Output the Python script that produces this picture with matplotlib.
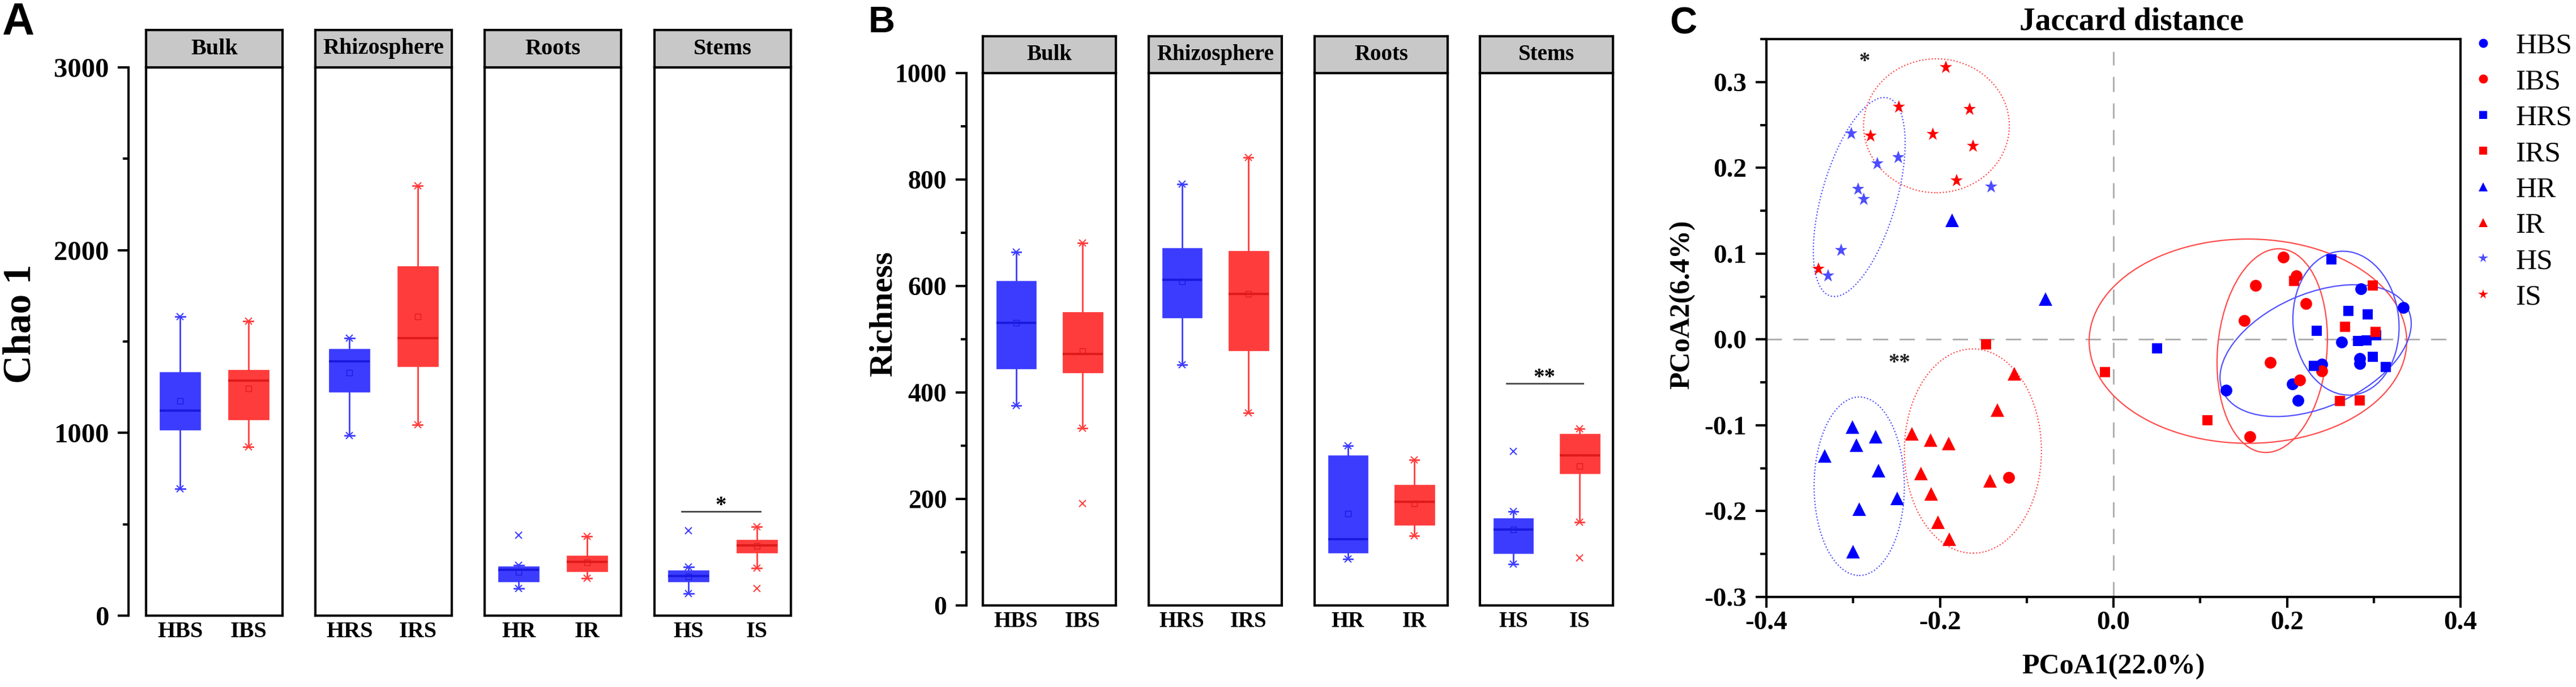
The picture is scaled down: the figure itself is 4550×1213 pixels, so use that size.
import matplotlib
matplotlib.use('Agg')
import matplotlib.pyplot as plt
from matplotlib.patches import Ellipse
from matplotlib.lines import Line2D
from matplotlib.ticker import MultipleLocator

# ---------------- data: alpha diversity boxes (A = Chao 1, B = Richness)
habitats = ['Bulk', 'Rhizosphere', 'Roots', 'Stems']
box_groups = ['HBS', 'IBS', 'HRS', 'IRS', 'HR', 'IR', 'HS', 'IS']

chao_lo = [694, 923, 985, 1043, 150, 205, 121, 260]
chao_q1 = [1016, 1071, 1224, 1364, 186, 241, 186, 344]
chao_med = [1122, 1286, 1391, 1518, 250, 294, 217, 384]
chao_q3 = [1333, 1345, 1461, 1912, 270, 329, 248, 415]
chao_hi = [1635, 1611, 1518, 2352, 275, 433, 265, 486]
chao_mean = [1176, 1243, 1330, 1635, 240, 290, 215, 380]
chao_out = [[], [], [], [], [440], [], [464], [149]]
chao_sig = [570, '*']

rich_lo = [376, 333, 452, 362, 87, 131, 78, 156]
rich_q1 = [445, 437, 540, 479, 99, 151, 98, 248]
rich_med = [531, 472, 612, 585, 125, 195, 143, 282]
rich_q3 = [610, 551, 671, 666, 282, 227, 164, 322]
rich_hi = [664, 681, 791, 841, 300, 273, 177, 332]
rich_mean = [531, 478, 608, 585, 172, 192, 143, 262]
rich_out = [[], [191], [], [], [], [], [289], [89]]
rich_sig = [417, '**']

# ---------------- data: PCoA (C)
hbs_x = [0.285, 0.334, 0.263, 0.284, 0.284, 0.240, 0.206, 0.213, 0.130]
hbs_y = [0.059, 0.037, -0.003, -0.022, -0.028, -0.029, -0.052, -0.071, -0.059]
ibs_x = [0.196, 0.211, 0.164, 0.222, 0.151, 0.181, 0.215, 0.240, 0.157, -0.121]
ibs_y = [0.096, 0.074, 0.063, 0.042, 0.022, -0.027, -0.047, -0.037, -0.113, -0.161]
hrs_x = [0.251, 0.271, 0.293, 0.234, 0.303, 0.282, 0.292, 0.299, 0.314, 0.231, 0.050]
hrs_y = [0.093, 0.033, 0.029, 0.010, 0.005, -0.002, -0.001, -0.020, -0.032, -0.031, -0.010]
irs_x = [0.208, 0.299, 0.267, 0.302, 0.261, 0.284, 0.108, -0.010, -0.147]
irs_y = [0.068, 0.063, 0.015, 0.009, -0.072, -0.071, -0.094, -0.038, -0.006]
hr_x = [-0.301, -0.274, -0.296, -0.333, -0.271, -0.249, -0.293, -0.300, -0.186, -0.078]
hr_y = [-0.102, -0.113, -0.123, -0.136, -0.153, -0.185, -0.198, -0.247, 0.139, 0.047]
ir_x = [-0.232, -0.211, -0.190, -0.222, -0.142, -0.210, -0.202, -0.189, -0.134, -0.114]
ir_y = [-0.110, -0.117, -0.121, -0.156, -0.165, -0.180, -0.213, -0.233, -0.082, -0.040]
hs_x = [-0.302, -0.272, -0.248, -0.294, -0.288, -0.141, -0.314, -0.329]
hs_y = [0.240, 0.205, 0.212, 0.175, 0.163, 0.178, 0.104, 0.074]
is_x = [-0.193, -0.247, -0.166, -0.280, -0.208, -0.162, -0.181, -0.340]
is_y = [0.317, 0.271, 0.268, 0.237, 0.239, 0.225, 0.185, 0.082]

# ellipses (centre, width, height, angle)
ell_group = ['HS', 'IS', 'HR', 'IR', 'IRS', 'IBS', 'HBS', 'HRS']
ell_cx = [-0.293, -0.204, -0.293, -0.162, 0.155, 0.183, 0.233, 0.268]
ell_cy = [0.166, 0.249, -0.171, -0.130, -0.002, -0.013, -0.013, 0.019]
ell_w = [0.240, 0.168, 0.104, 0.158, 0.366, 0.238, 0.234, 0.168]
ell_h = [0.086, 0.156, 0.208, 0.238, 0.238, 0.126, 0.132, 0.122]
ell_ang = [74, 0, 0, 0, 0, 85, 24, 95]
sig_marks = [[-0.287, 0.323, '*'], [-0.247, -0.028, '**']]

BLUE, RED = '#0000ff', '#ff0000'
BOX_FILL = ['#3c3cff', '#ff3c3c']
BOX_DARK = ['#1a1ae0', '#e01a1a']

W, H = 4550, 1213
plt.rcParams['font.family'] = ['Liberation Serif', 'DejaVu Serif']
plt.rcParams['font.weight'] = 'bold'
plt.rcParams['axes.labelweight'] = 'bold'
plt.rcParams['axes.titleweight'] = 'bold'

fig = plt.figure(figsize=(W / 100, H / 100), dpi=100)


def px_axes(x0, y0, x1, y1):
    return fig.add_axes([x0 / W, 1 - y1 / H, (x1 - x0) / W, (y1 - y0) / H])


def box_panel(axis_x, lefts, width, strip_top, top, bottom, ymax, major, minor,
              lo, q1, med, q3, hi, mean, out, sig, ylabel, lab_xy, fs):
    fs_tick, fs_cat, fs_lab = fs
    # shared y axis
    yax = px_axes(axis_x, top, lefts[0], bottom)
    yax.set_ylim(0, ymax)
    yax.patch.set_visible(False)
    for s in ['top', 'right', 'bottom']:
        yax.spines[s].set_visible(False)
    yax.spines['left'].set_linewidth(3)
    yax.set_xticks([])
    yax.yaxis.set_major_locator(MultipleLocator(major))
    yax.yaxis.set_minor_locator(MultipleLocator(minor))
    yax.tick_params(axis='y', which='major', length=14, width=3, labelsize=fs_tick, pad=11)
    yax.tick_params(axis='y', which='minor', length=7, width=3)
    yax.set_ylabel(ylabel, fontsize=fs_lab, va='center')
    yax.yaxis.set_label_coords((lab_xy[0] - axis_x) / (lefts[0] - axis_x),
                               (bottom - lab_xy[1]) / (bottom - top))

    for k, hab in enumerate(habitats):
        x0 = lefts[k]
        ax = px_axes(x0, top, x0 + width, bottom)
        ax.set_xlim(0.5, 2.5)
        ax.set_ylim(0, ymax)
        idx = [2 * k, 2 * k + 1]
        stats = [dict(whislo=lo[i], q1=q1[i], med=med[i], q3=q3[i], whishi=hi[i],
                      mean=mean[i], fliers=out[i], label=box_groups[i]) for i in idx]
        bp = ax.bxp(stats, positions=[1, 2], widths=0.6, patch_artist=True,
                    showmeans=True, capwidths=0.14)
        for j in range(2):
            bp['boxes'][j].set(facecolor=BOX_FILL[j], edgecolor=BOX_FILL[j], linewidth=0.5)
            bp['medians'][j].set(color=BOX_DARK[j], linewidth=3)
            for w in bp['whiskers'][2 * j:2 * j + 2] + bp['caps'][2 * j:2 * j + 2]:
                w.set(color=BOX_FILL[j], linewidth=2)
            bp['fliers'][j].set(marker='x', markeredgecolor=BOX_FILL[j], markersize=9,
                                markeredgewidth=1.5)
            bp['means'][j].set(marker='s', markerfacecolor='none',
                               markeredgecolor=BOX_DARK[j], markersize=7, markeredgewidth=1)
            i = idx[j]
            ax.plot([j + 1, j + 1], [lo[i], hi[i]], ls='', marker='x', ms=8, mew=1.5,
                    color=BOX_FILL[j])
        ax.set_yticks([])
        ax.tick_params(axis='x', length=0, labelsize=fs_cat, pad=7)
        for s in ax.spines.values():
            s.set_linewidth(3)
        if k == 3:
            ax.plot([0.9, 2.05], [sig[0], sig[0]], color='#444444', lw=2)
            ax.text(1.47, sig[0], sig[1], ha='center', va='baseline', fontsize=28)

        strip = px_axes(x0, strip_top, x0 + width, top)
        strip.set_facecolor('#c8c8c8')
        strip.set_xticks([])
        strip.set_yticks([])
        for s in strip.spines.values():
            s.set_linewidth(3)
        strip.text(0.5, 0.5, hab, ha='center', va='center', fontsize=fs_cat,
                   transform=strip.transAxes)


# ---- A
box_panel(227, [258, 557, 856, 1156], 241, 53, 119, 1087, 3000, 1000, 500,
          chao_lo, chao_q1, chao_med, chao_q3, chao_hi, chao_mean, chao_out, chao_sig,
          'Chao 1', (37, 572), (35, 29, 50))
# ---- B
box_panel(1707, [1736, 2029, 2322, 2614], 235, 64, 129, 1069, 1000, 200, 100,
          rich_lo, rich_q1, rich_med, rich_q3, rich_hi, rich_mean, rich_out, rich_sig,
          'Richness', (1561, 554), (33, 28, 42))

# ---- C
axc = px_axes(3120, 69, 4346, 1054)
axc.set_xlim(-0.4, 0.4)
axc.set_ylim(-0.3, 0.35)
axc.axhline(0, xmax=0.985, color='#aaaaaa', lw=2, ls=(0, (9.7, 7.2)), zorder=0)
axc.axvline(0, ymax=0.978, color='#aaaaaa', lw=2, ls=(0, (9.7, 7.2)), zorder=0)

pts = [('HBS', hbs_x, hbs_y, 'o', BLUE, 15), ('IBS', ibs_x, ibs_y, 'o', RED, 15),
       ('HRS', hrs_x, hrs_y, 's', BLUE, 13), ('IRS', irs_x, irs_y, 's', RED, 13),
       ('HR', hr_x, hr_y, '^', BLUE, 17), ('IR', ir_x, ir_y, '^', RED, 17),
       ('HS', hs_x, hs_y, '*', '#4d4dff', 17), ('IS', is_x, is_y, '*', RED, 17)]
handles = []
for name, xs, ys, m, c, ms in pts:
    axc.plot(xs, ys, ls='', marker=m, color=c, ms=ms, mew=0, zorder=3)
    handles.append(Line2D([], [], ls='', marker=m, color=c, mew=0,
                          ms={'o': 11.5, 's': 10, '^': 12, '*': 13}[m]))

for g, cx, cy, w, h, a in zip(ell_group, ell_cx, ell_cy, ell_w, ell_h, ell_ang):
    col = '#5050ff' if g.startswith('H') else '#ff4a4a'
    dotted = g in ('HS', 'IS', 'HR', 'IR')
    axc.add_patch(Ellipse((cx, cy), w, h, angle=a, fill=False, edgecolor=col,
                          lw=1.6, ls=(0, (1, 1.5)) if dotted else '-', zorder=2))

for x, y, t in sig_marks:
    axc.text(x, y, t, ha='center', va='center', fontsize=28, color='#222222')

axc.xaxis.set_major_locator(MultipleLocator(0.2))
axc.xaxis.set_minor_locator(MultipleLocator(0.1))
axc.yaxis.set_major_locator(MultipleLocator(0.1))
axc.yaxis.set_minor_locator(MultipleLocator(0.05))
axc.set_xticklabels([f'{v:.1f}' for v in axc.get_xticks()])
axc.set_yticklabels([f'{v:.1f}' for v in axc.get_yticks()])
axc.tick_params(which='major', direction='out', length=14, width=3, labelsize=34)
axc.tick_params(axis='y', which='major', pad=11)
axc.tick_params(axis='x', which='major', pad=4)
axc.tick_params(which='minor', direction='out', length=8, width=3)
for s in axc.spines.values():
    s.set_linewidth(3)
axc.set_xlabel('PCoA1(22.0%)', fontsize=36, va='center')
axc.xaxis.set_label_coords(0.5, (1054 - 1177) / 985)
axc.set_ylabel('PCoA2(6.4%)', fontsize=36, va='center')
axc.yaxis.set_label_coords((2971 - 3120) / 1226, (1054 - 538) / 985)
axc.set_title('Jaccard distance', fontsize=40, x=0.526, pad=12)

axc.legend(handles, [p[0] for p in pts], loc='upper left',
           bbox_to_anchor=(4360 / W, 1 - 58 / H), bbox_transform=fig.transFigure,
           frameon=False, prop={'family': 'Liberation Serif', 'weight': 'normal', 'size': 37},
           handlelength=1.0, handletextpad=0.62, labelspacing=0.32,
           borderaxespad=0, borderpad=0)

# panel letters
for x, y, t, size in [(3, 3, 'A', 57), (1534, 10, 'B', 47), (2949, 12, 'C', 48)]:
    fig.text(x / W, 1 - y / H, t, ha='left', va='top', fontsize=size,
             family='Liberation Sans', weight='bold')

fig.savefig('out.png', dpi=100)
